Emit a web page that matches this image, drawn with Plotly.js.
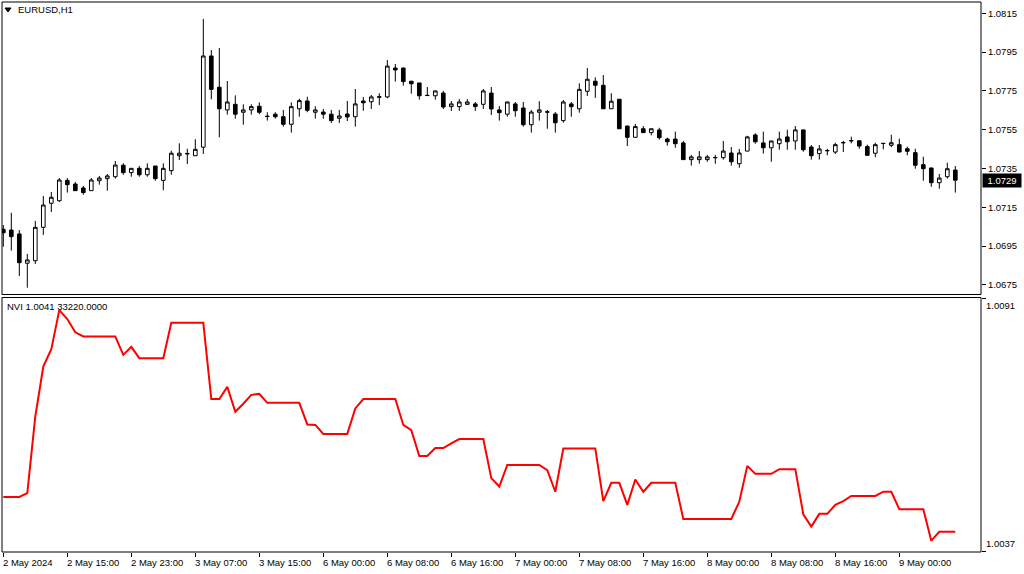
<!DOCTYPE html>
<html><head><meta charset="utf-8">
<script src="https://cdn.plot.ly/plotly-3.0.1.min.js"></script>
<style>html,body{margin:0;padding:0;background:#fff;} #chart{width:1024px;height:574px;}</style>
</head><body><div id="chart"></div>
<script>
const symbolTitle = "EURUSD,H1";
const nviLegend = "NVI 1.0041 33220.0000";
const lastPrice = 1.0729;
const timeLabels = ["2 May 2024","2 May 15:00","2 May 23:00","3 May 07:00","3 May 15:00","6 May 00:00","6 May 08:00","6 May 16:00","7 May 00:00","7 May 08:00","7 May 16:00","8 May 00:00","8 May 08:00","8 May 16:00","9 May 00:00"];
const priceTicks = [1.0675,1.0695,1.0715,1.0735,1.0755,1.0775,1.0795,1.0815];
const nviScaleLabels = [1.0091, 1.0037];

const openP = [
1.07037,1.07033,1.07013,1.06862,1.06875,1.07047,1.07171,1.07184,1.07289,1.07270,
1.07250,1.07236,1.07287,1.07298,1.07308,1.07367,1.07329,1.07351,1.07318,1.07363,
1.07289,1.07339,1.07416,1.07428,1.07416,1.07460,1.07930,1.07769,1.07652,1.07681,
1.07640,1.07652,1.07671,1.07620,1.07630,1.07617,1.07578,1.07658,1.07698,1.07640,
1.07641,1.07630,1.07609,1.07631,1.07617,1.07698,1.07694,1.07720,1.07719,1.07868,
1.07868,1.07800,1.07791,1.07726,1.07725,1.07739,1.07669,1.07669,1.07681,1.07683,
1.07681,1.07739,1.07652,1.07630,1.07683,1.07662,1.07576,1.07640,1.07642,1.07631,
1.07597,1.07683,1.07658,1.07748,1.07800,1.07779,1.07658,1.07707,1.07569,1.07511,
1.07555,1.07535,1.07549,1.07502,1.07502,1.07482,1.07396,1.07396,1.07396,1.07407,
1.07406,1.07430,1.07375,1.07440,1.07523,1.07482,1.07457,1.07478,1.07513,1.07492,
1.07549,1.07461,1.07427,1.07443,1.07435,1.07484,1.07494,1.07493,1.07463,1.07429,
1.07480,1.07470,1.07473,1.07452,1.07432,1.07370,1.07353,1.07277,1.07308,1.07342];

const highP = [
1.07059,1.07122,1.07033,1.06910,1.07080,1.07209,1.07229,1.07301,1.07301,1.07281,
1.07260,1.07301,1.07312,1.07322,1.07389,1.07377,1.07351,1.07363,1.07377,1.07363,
1.07377,1.07442,1.07480,1.07452,1.07501,1.08121,1.07961,1.07971,1.07801,1.07727,
1.07681,1.07681,1.07691,1.07640,1.07640,1.07652,1.07691,1.07710,1.07720,1.07671,
1.07657,1.07652,1.07652,1.07698,1.07760,1.07719,1.07729,1.07738,1.07909,1.07889,
1.07870,1.07801,1.07791,1.07770,1.07751,1.07750,1.07698,1.07708,1.07708,1.07693,
1.07760,1.07770,1.07672,1.07694,1.07693,1.07693,1.07652,1.07697,1.07652,1.07641,
1.07703,1.07693,1.07789,1.07868,1.07820,1.07832,1.07738,1.07708,1.07570,1.07580,
1.07569,1.07556,1.07560,1.07509,1.07540,1.07492,1.07420,1.07440,1.07420,1.07420,
1.07492,1.07461,1.07451,1.07519,1.07532,1.07540,1.07493,1.07540,1.07550,1.07569,
1.07550,1.07471,1.07471,1.07452,1.07483,1.07493,1.07514,1.07494,1.07473,1.07483,
1.07481,1.07524,1.07504,1.07463,1.07452,1.07411,1.07354,1.07322,1.07380,1.07363];

const lowP = [
1.06947,1.06927,1.06796,1.06736,1.06858,1.07008,1.07126,1.07178,1.07226,1.07236,
1.07215,1.07236,1.07267,1.07236,1.07298,1.07318,1.07308,1.07308,1.07308,1.07287,
1.07238,1.07318,1.07394,1.07373,1.07416,1.07425,1.07707,1.07511,1.07628,1.07607,
1.07576,1.07628,1.07630,1.07597,1.07607,1.07566,1.07535,1.07617,1.07640,1.07607,
1.07607,1.07585,1.07585,1.07595,1.07566,1.07648,1.07657,1.07677,1.07712,1.07798,
1.07777,1.07736,1.07705,1.07725,1.07705,1.07657,1.07647,1.07647,1.07677,1.07647,
1.07657,1.07626,1.07597,1.07617,1.07617,1.07566,1.07535,1.07597,1.07555,1.07535,
1.07586,1.07617,1.07638,1.07724,1.07714,1.07657,1.07657,1.07554,1.07466,1.07510,
1.07534,1.07521,1.07499,1.07468,1.07457,1.07395,1.07365,1.07375,1.07385,1.07375,
1.07396,1.07365,1.07354,1.07439,1.07478,1.07427,1.07385,1.07447,1.07447,1.07447,
1.07437,1.07396,1.07396,1.07418,1.07425,1.07435,1.07480,1.07452,1.07417,1.07408,
1.07449,1.07460,1.07434,1.07418,1.07349,1.07287,1.07256,1.07246,1.07298,1.07226];

const closeP = [
1.07019,1.06999,1.06865,1.06879,1.07047,1.07162,1.07202,1.07291,1.07267,1.07236,
1.07226,1.07291,1.07301,1.07312,1.07368,1.07329,1.07351,1.07318,1.07351,1.07298,
1.07351,1.07429,1.07429,1.07426,1.07449,1.07930,1.07758,1.07658,1.07693,1.07630,
1.07652,1.07669,1.07640,1.07618,1.07617,1.07578,1.07669,1.07700,1.07650,1.07652,
1.07630,1.07597,1.07621,1.07616,1.07683,1.07689,1.07719,1.07718,1.07878,1.07858,
1.07798,1.07787,1.07725,1.07727,1.07750,1.07667,1.07683,1.07693,1.07693,1.07669,
1.07750,1.07657,1.07638,1.07693,1.07648,1.07576,1.07641,1.07652,1.07641,1.07586,
1.07693,1.07669,1.07758,1.07810,1.07779,1.07658,1.07697,1.07555,1.07511,1.07566,
1.07535,1.07555,1.07509,1.07488,1.07478,1.07396,1.07410,1.07410,1.07410,1.07406,
1.07440,1.07385,1.07430,1.07513,1.07488,1.07457,1.07492,1.07502,1.07488,1.07549,
1.07447,1.07416,1.07451,1.07442,1.07473,1.07483,1.07493,1.07466,1.07418,1.07473,
1.07479,1.07483,1.07435,1.07439,1.07367,1.07349,1.07277,1.07301,1.07349,1.07290];

const nvi = [
1.00485,1.00485,1.00485,1.00493,1.00656,1.00762,1.00799,1.00882,1.00863,1.00835,
1.00826,1.00826,1.00826,1.00826,1.00826,1.00787,1.00804,1.00780,1.00780,1.00780,
1.00780,1.00855,1.00855,1.00855,1.00855,1.00855,1.00693,1.00693,1.00719,1.00666,
1.00683,1.00702,1.00704,1.00685,1.00685,1.00685,1.00685,1.00685,1.00639,1.00638,
1.00619,1.00619,1.00619,1.00619,1.00673,1.00693,1.00693,1.00693,1.00693,1.00693,
1.00638,1.00627,1.00572,1.00572,1.00589,1.00589,1.00599,1.00608,1.00608,1.00608,
1.00608,1.00525,1.00507,1.00553,1.00553,1.00553,1.00553,1.00553,1.00542,1.00496,
1.00588,1.00588,1.00588,1.00588,1.00588,1.00476,1.00515,1.00515,1.00468,1.00522,
1.00496,1.00515,1.00515,1.00515,1.00515,1.00438,1.00438,1.00438,1.00438,1.00438,
1.00438,1.00438,1.00475,1.00551,1.00534,1.00534,1.00534,1.00544,1.00544,1.00544,
1.00448,1.00422,1.00449,1.00449,1.00468,1.00476,1.00487,1.00487,1.00487,1.00487,
1.00496,1.00496,1.00459,1.00459,1.00459,1.00459,1.00392,1.00411,1.00411,1.00411];

const FONT = "Liberation Sans, Arial, sans-serif";
const idx = openP.map((_, i) => i);
const labelStep = 8;
const tickIdx = timeLabels.map((_, k) => k * labelStep);

// pixel helpers for paper positions (plot area: x 2..981, y 2..552)
const PL = 2, PR = 981, PT = 2, PB = 552;
const px = v => (v - PL) / (PR - PL);
const py = v => (PB - v) / (PB - PT);

const topDom = [py(294.5), 1];
const botDom = [0, py(297.5)];

const candles = {
  type: 'candlestick', x: idx, open: openP, high: highP, low: lowP, close: closeP,
  xaxis: 'x', yaxis: 'y',
  increasing: {line: {color: '#000', width: 1}, fillcolor: '#fff'},
  decreasing: {line: {color: '#000', width: 1}, fillcolor: '#000'},
  whiskerwidth: 0, hoverinfo: 'skip'
};
const nviTrace = {
  type: 'scatter', mode: 'lines', x: idx, y: nvi, xaxis: 'x', yaxis: 'y2',
  line: {color: '#ff0000', width: 2}, hoverinfo: 'skip'
};

const annotations = [];
annotations.push({xref:'paper', yref:'paper', x: px(16), y: py(10), xanchor:'left', yanchor:'middle',
  text: symbolTitle, showarrow:false, font:{family:FONT, size:9.5, color:'#000'}});
annotations.push({xref:'paper', yref:'paper', x: px(5), y: py(306.5), xanchor:'left', yanchor:'middle',
  text: nviLegend, showarrow:false, font:{family:FONT, size:9.5, color:'#000'}});
annotations.push({xref:'paper', yref:'y', x: 1, y: lastPrice, xanchor:'left', yanchor:'middle', xshift: 1,
  text: lastPrice.toFixed(4), showarrow:false, bgcolor:'#000', width: 36, height: 11, borderpad: 1,
  font:{family:FONT, size:9.5, color:'#fff'}});
annotations.push({xref:'paper', yref:'paper', x: 1, y: py(298), xanchor:'left', yanchor:'top', xshift: 3,
  text: nviScaleLabels[0].toFixed(4), showarrow:false, font:{family:FONT, size:9.5, color:'#000'}});
annotations.push({xref:'paper', yref:'paper', x: 1, y: py(551), xanchor:'left', yanchor:'bottom', xshift: 3,
  text: nviScaleLabels[1].toFixed(4), showarrow:false, font:{family:FONT, size:9.5, color:'#000'}});
timeLabels.forEach((t, k) => {
  annotations.push({xref:'x', yref:'paper', x: tickIdx[k], y: 0, xanchor:'left', yanchor:'top', xshift: -2, yshift: -3,
    text: t, showarrow:false, font:{family:FONT, size:9.5, color:'#000'}});
});

const shapes = [
  {type:'rect', xref:'paper', yref:'paper', x0:0, x1:1, y0:topDom[0], y1:1, line:{color:'#000', width:1}},
  {type:'rect', xref:'paper', yref:'paper', x0:0, x1:1, y0:0, y1:botDom[1], line:{color:'#000', width:1}},
  {type:'path', xref:'paper', yref:'paper', path:`M ${px(5)} ${py(8)} L ${px(11)} ${py(8)} L ${px(8)} ${py(12)} Z`,
   fillcolor:'#000', line:{color:'#000', width:1}}
];

const layout = {
  width: 1024, height: 574,
  margin: {l: PL, r: 1024 - PR, t: PT, b: 574 - PB, pad: 0},
  paper_bgcolor: '#fff', plot_bgcolor: '#fff', showlegend: false, boxgap: 0.35,
  font: {family: FONT, size: 9.5, color: '#000'},
  xaxis: {range: [(PL - 3.3) / 8, (PR - 3.3) / 8], anchor: 'y2', showgrid: false, zeroline: false,
    rangeslider: {visible: false}, tickvals: tickIdx, showticklabels: false, ticks: 'outside',
    ticklen: 4, tickcolor: '#000', showline: false, fixedrange: true},
  yaxis: {domain: topDom, range: [1.067009, 1.082082], side: 'right', anchor: 'x', showgrid: false, zeroline: false,
    tickvals: priceTicks, ticktext: priceTicks.map(v => v.toFixed(4)), ticks: 'outside', ticklen: 4,
    tickcolor: '#000', tickfont: {family: FONT, size: 9.5, color: '#000'}, showline: false, fixedrange: true},
  yaxis2: {domain: botDom, range: [1.003679, 1.009089], side: 'right', anchor: 'x', showgrid: false, zeroline: false,
    tickvals: [1.00907, 1.0037], showticklabels: false, ticks: 'outside', ticklen: 4, tickcolor: '#000',
    showline: false, fixedrange: true},
  shapes: shapes,
  annotations: annotations
};

Plotly.newPlot('chart', [candles, nviTrace], layout, {displayModeBar: false, staticPlot: true});
</script>
</body></html>
